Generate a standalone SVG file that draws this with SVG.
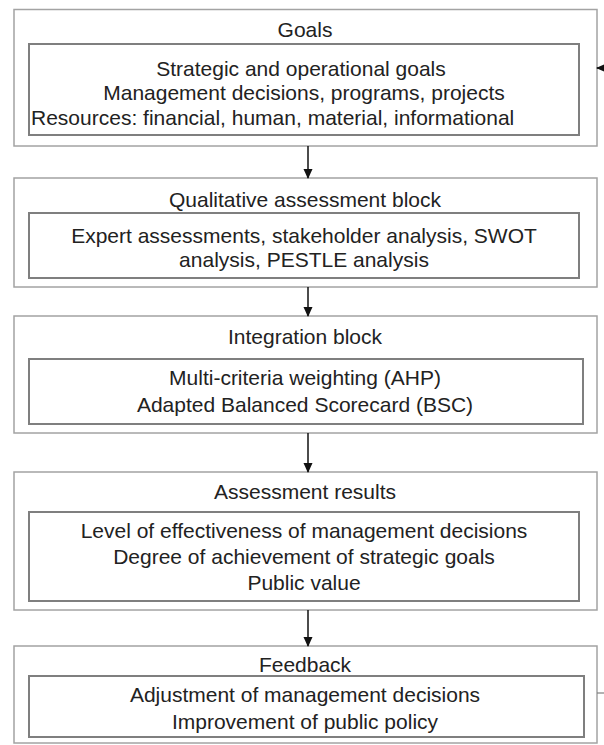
<svg xmlns="http://www.w3.org/2000/svg" width="604" height="745" viewBox="0 0 604 745">
<style>
.outer{fill:#fff;stroke:#a3a3a3;stroke-width:1.5}
.inner{fill:#fff;stroke:#7f7f7f;stroke-width:2}
text{font-family:"Liberation Sans",Arial,sans-serif;font-size:21px;fill:#222;text-anchor:middle}
.conn{stroke:#111;stroke-width:1.5;fill:none}
.stub{stroke:#7f7f7f;stroke-width:1.2;fill:none}
</style>
<defs>
<marker id="ah" markerWidth="10" markerHeight="10" refX="9" refY="5" orient="auto" markerUnits="userSpaceOnUse">
<path d="M0,0.5 L10,5 L0,9.5 Z" fill="#111"/>
</marker>
</defs>
<rect width="604" height="745" fill="#fff"/>
<g id="goals">
<rect class="outer" x="14" y="9.5" width="583" height="136.5"/>
<text x="305" y="37">Goals</text>
<rect class="inner" x="29" y="44" width="550" height="91"/>
<text x="301" y="76">Strategic and operational goals</text>
<text x="304" y="100">Management decisions, programs, projects</text>
<text x="31" y="125" style="text-anchor:start">Resources: financial, human, material, informational</text>
</g>
<g id="qualitative">
<rect class="outer" x="14" y="178" width="583" height="109"/>
<text x="305" y="207">Qualitative assessment block</text>
<rect class="inner" x="29" y="213" width="550" height="65"/>
<text x="304" y="243">Expert assessments, stakeholder analysis, SWOT</text>
<text x="304" y="267">analysis, PESTLE analysis</text>
</g>
<g id="integration">
<rect class="outer" x="14" y="316" width="583" height="117"/>
<text x="305" y="344">Integration block</text>
<rect class="inner" x="29" y="359" width="554" height="65"/>
<text x="305" y="385">Multi-criteria weighting (AHP)</text>
<text x="305" y="412">Adapted Balanced Scorecard (BSC)</text>
</g>
<g id="results">
<rect class="outer" x="14" y="472" width="583" height="138"/>
<text x="305" y="499">Assessment results</text>
<rect class="inner" x="29" y="512" width="550" height="89"/>
<text x="304" y="538">Level of effectiveness of management decisions</text>
<text x="304" y="564">Degree of achievement of strategic goals</text>
<text x="304" y="590">Public value</text>
</g>
<g id="feedback">
<rect class="outer" x="14" y="646" width="583" height="97"/>
<text x="305" y="672">Feedback</text>
<rect class="inner" x="29" y="676" width="555" height="61"/>
<text x="305" y="702">Adjustment of management decisions</text>
<text x="305" y="729">Improvement of public policy</text>
</g>
<g id="connectors">
<line class="conn" x1="308" y1="146" x2="308" y2="178" marker-end="url(#ah)"/>
<line class="conn" x1="308" y1="287" x2="308" y2="316" marker-end="url(#ah)"/>
<line class="conn" x1="308" y1="433" x2="308" y2="472" marker-end="url(#ah)"/>
<line class="conn" x1="308" y1="610" x2="308" y2="646" marker-end="url(#ah)"/>
<line class="stub" x1="597" y1="693" x2="604" y2="693"/>
<line class="conn" x1="606" y1="68" x2="597" y2="68" marker-end="url(#ah)"/>
</g>
</svg>
